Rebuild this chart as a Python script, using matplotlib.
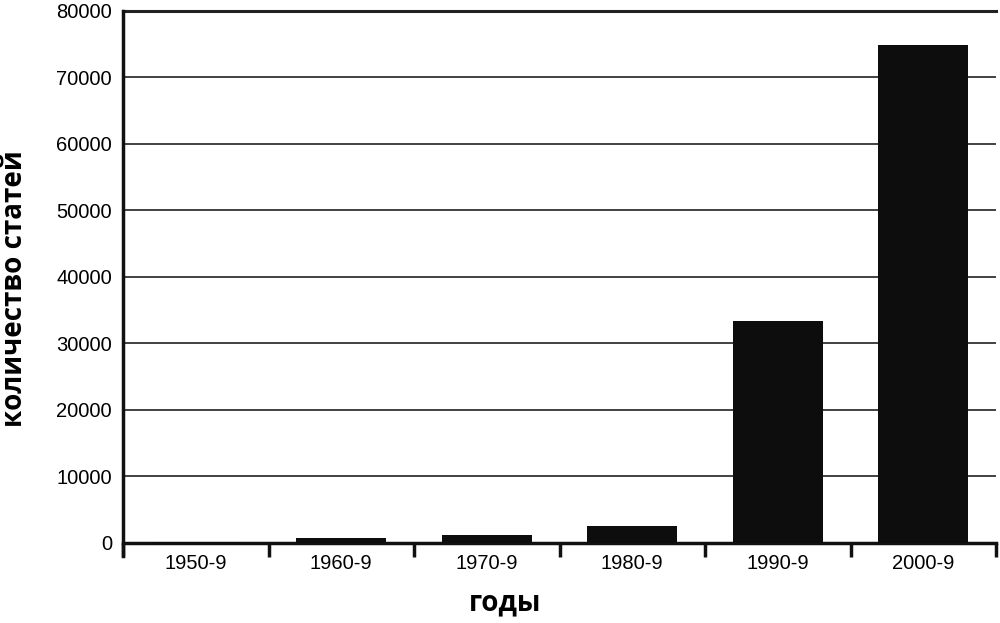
import numpy as np
import matplotlib.pyplot as plt
from matplotlib.ticker import FixedLocator

# Data
decades = ["1950-9", "1960-9", "1970-9", "1980-9", "1990-9", "2000-9"]
article_counts = [30, 750, 1200, 2500, 33400, 74900]
y_ticks = [0, 10000, 20000, 30000, 40000, 50000, 60000, 70000, 80000]

fig = plt.figure(figsize=(10, 6.23), dpi=100)
ax = fig.add_axes([0.123, 0.129, 0.873, 0.854])

x = np.arange(len(decades))
ax.bar(x, article_counts, width=0.62, color="#0d0d0d", edgecolor="none", zorder=3)

ax.set_xlim(-0.5, len(decades) - 0.5)
ax.set_ylim(0, 80000)
ax.set_yticks(y_ticks)
ax.set_yticklabels([str(v) for v in y_ticks], fontsize=14.5, family="Liberation Sans")

# category labels in the middle, tick marks at the boundaries
ax.set_xticks(x)
ax.set_xticklabels(decades, fontsize=14.5, family="Liberation Sans")
ax.tick_params(axis="x", which="major", length=0, pad=8)
ax.xaxis.set_minor_locator(FixedLocator(np.arange(-0.5, len(decades), 1.0)))
ax.tick_params(axis="x", which="minor", length=10, width=2.5, color="#111111")
ax.tick_params(axis="y", length=0, pad=8)

ax.yaxis.grid(True, color="#333333", linewidth=1.3, zorder=0)
ax.set_axisbelow(True)
ax.axhline(80000, color="#222222", linewidth=2.2, clip_on=False)

for side in ["top", "right"]:
    ax.spines[side].set_visible(False)
ax.spines["left"].set_linewidth(2.5)
ax.spines["bottom"].set_linewidth(2.5)
ax.spines["left"].set_color("#111111")
ax.spines["bottom"].set_color("#111111")
ax.spines["left"].set_bounds(-2000, 80000)

ax.set_xlabel("годы", fontsize=20, fontweight="bold", family="Open Sans")
ax.xaxis.set_label_coords(0.4376, -0.087)
ax.set_ylabel("количество статей", fontsize=20, fontweight="bold", family="Open Sans")
ax.yaxis.set_label_coords(-0.108, 0.478)

plt.savefig("out.png", dpi=100)
